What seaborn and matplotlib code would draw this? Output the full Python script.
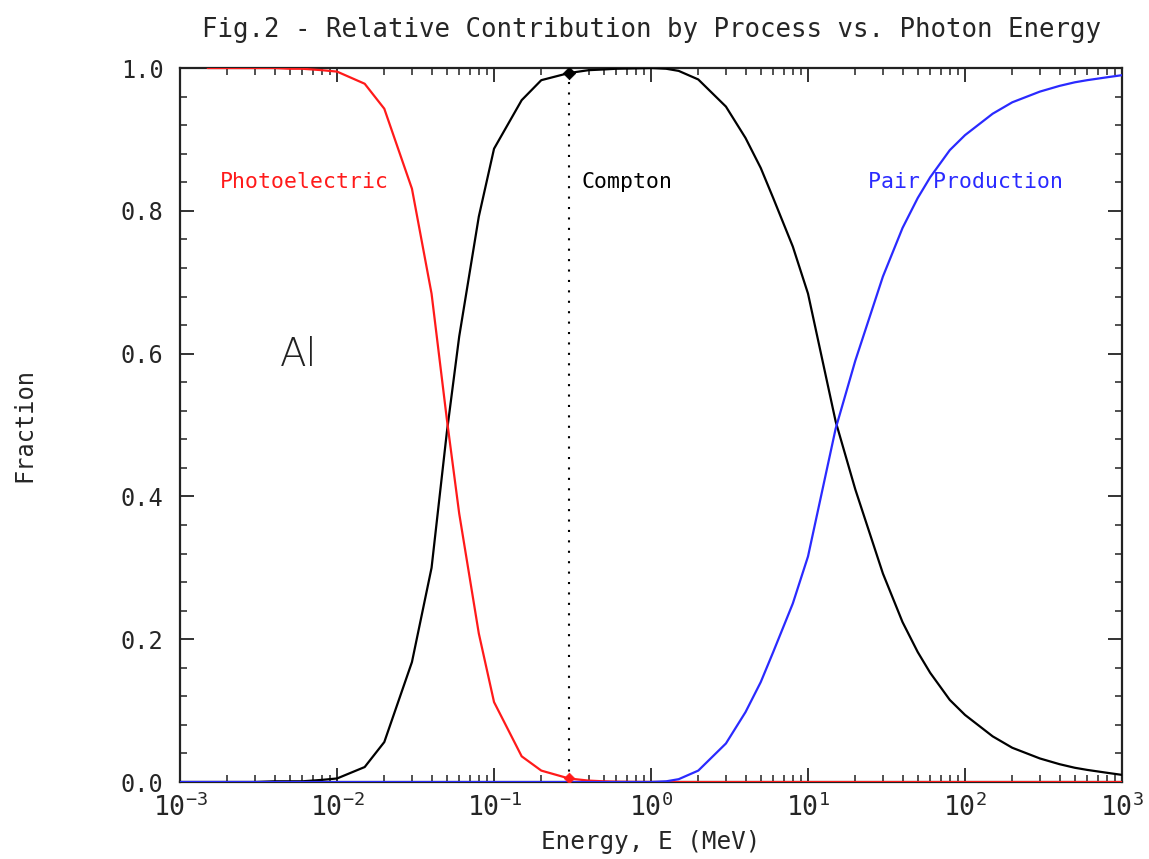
import numpy as np
import pandas as pd
import matplotlib
matplotlib.use("Agg")
import matplotlib.pyplot as plt
import matplotlib.ticker as mticker
import seaborn as sns

# Photon energy grid (MeV) and fractional contribution of each process in aluminium
energy = [0.001, 0.0015, 0.002, 0.003, 0.004, 0.005, 0.006, 0.008, 0.01, 0.015,
          0.02, 0.03, 0.04, 0.05, 0.06, 0.08, 0.1, 0.15, 0.2, 0.3,
          0.4, 0.5, 0.6, 0.8, 1.0, 1.25, 1.5, 2.0, 3.0, 4.0,
          5.0, 6.0, 8.0, 10.0, 15.0, 20.0, 30.0, 40.0, 50.0, 60.0,
          80.0, 100.0, 150.0, 200.0, 300.0, 400.0, 500.0, 600.0, 800.0, 1000.0]

photoelectric = [np.nan, 1.0, 1.0, 1.0, 1.0, 0.999, 0.999, 0.997, 0.995, 0.978,
                 0.943, 0.831, 0.684, 0.509, 0.376, 0.208, 0.112, 0.036, 0.016, 0.005,
                 0.002, 0.001, 0.0005, 0.0002, 0.0001, 0.0, 0.0, 0.0, 0.0, 0.0,
                 0.0, 0.0, 0.0, 0.0, 0.0, 0.0, 0.0, 0.0, 0.0, 0.0,
                 0.0, 0.0, 0.0, 0.0, 0.0, 0.0, 0.0, 0.0, 0.0, 0.0]

compton = [0.0, 0.0, 0.0, 0.0, 0.001, 0.001, 0.001, 0.003, 0.005, 0.021,
           0.056, 0.168, 0.300, 0.489, 0.624, 0.792, 0.887, 0.955, 0.983, 0.993,
           0.997, 0.998, 0.999, 0.9995, 1.0, 0.999, 0.996, 0.984, 0.946, 0.902,
           0.860, 0.818, 0.750, 0.684, 0.505, 0.410, 0.292, 0.224, 0.182, 0.153,
           0.115, 0.094, 0.064, 0.048, 0.033, 0.025, 0.020, 0.017, 0.013, 0.010]

pair_production = [0.0, 0.0, 0.0, 0.0, 0.0, 0.0, 0.0, 0.0, 0.0, 0.0,
                   0.0, 0.0, 0.0, 0.0, 0.0, 0.0, 0.0, 0.0, 0.0, 0.0,
                   0.0, 0.0, 0.0, 0.0, 0.0, 0.001, 0.004, 0.016, 0.054, 0.098,
                   0.140, 0.182, 0.250, 0.316, 0.495, 0.590, 0.708, 0.776, 0.818, 0.847,
                   0.885, 0.906, 0.936, 0.952, 0.967, 0.975, 0.980, 0.983, 0.987, 0.990]

# Axis tick values
x_major_ticks = [1e-3, 1e-2, 1e-1, 1e0, 1e1, 1e2, 1e3]
y_major_ticks = [0.0, 0.2, 0.4, 0.6, 0.8, 1.0]

# Marked energy on the Compton plateau
marker_energy = 0.3
marker_compton = 0.993
marker_photo = 0.005

sns.set_theme(style="white")
plt.rcParams["font.family"] = ["DejaVu Sans Mono"]
plt.rcParams["mathtext.default"] = "regular"

df = pd.DataFrame({"energy": energy, "Photoelectric": photoelectric,
                   "Compton": compton, "Pair Production": pair_production})

fig = plt.figure(figsize=(11.49, 8.59), dpi=100)
ax = fig.add_axes([0.1567, 0.0896, 0.8198, 0.8312])

ax.axvline(marker_energy, color="black", linestyle=(0, (1, 4)), linewidth=1.5, zorder=1)

sns.lineplot(data=df, x="energy", y="Compton", color="black", linewidth=1.6, ax=ax, zorder=3)
sns.lineplot(data=df, x="energy", y="Photoelectric", color="#ff1a1a", linewidth=1.6, ax=ax, zorder=3)
sns.lineplot(data=df, x="energy", y="Pair Production", color="#2a2aff", linewidth=1.6, ax=ax, zorder=3)

sns.scatterplot(x=[marker_energy], y=[marker_compton], marker="D", color="black",
                s=40, edgecolor="black", ax=ax, zorder=4)
sns.scatterplot(x=[marker_energy], y=[marker_photo], marker="D", color="#ff1a1a",
                s=30, edgecolor="#ff1a1a", ax=ax, zorder=4)

ax.set_xscale("log")
ax.set_xlim(x_major_ticks[0], x_major_ticks[-1])
ax.set_ylim(y_major_ticks[0], y_major_ticks[-1])

x_minor = [m * d for d in x_major_ticks[:-1] for m in range(2, 10)]
ax.xaxis.set_major_locator(mticker.FixedLocator(x_major_ticks))
ax.xaxis.set_major_formatter(mticker.LogFormatterSciNotation())
ax.xaxis.set_minor_locator(mticker.FixedLocator(x_minor))
ax.xaxis.set_minor_formatter(mticker.NullFormatter())
ax.yaxis.set_major_locator(mticker.FixedLocator(y_major_ticks))
ax.yaxis.set_minor_locator(mticker.MultipleLocator(0.04))
ax.yaxis.set_major_formatter(mticker.FormatStrFormatter("%.1f"))

ax.tick_params(which="both", direction="in", top=True, right=True,
               bottom=True, left=True, color="#333333")
ax.tick_params(which="major", length=10, width=1.4)
ax.tick_params(which="minor", length=5, width=1.2)
ax.tick_params(axis="y", which="major", labelsize=17, pad=12)
ax.tick_params(axis="x", which="major", labelsize=19, pad=8)
for side in ax.spines.values():
    side.set_color("#222222")
    side.set_linewidth(1.6)

ax.set_xlabel("Energy, E (MeV)", fontsize=17.5, labelpad=6)
ax.set_ylabel("Fraction", fontsize=17)
ax.yaxis.set_label_coords(-0.152, 0.5)
ax.set_title("Fig.2 - Relative Contribution by Process vs. Photon Energy",
             fontsize=18.5, pad=22)

ax.text(0.0018, 0.84, "Photoelectric", color="#ff1a1a", fontsize=15.5, va="center")
ax.text(0.36, 0.84, "Compton", color="black", fontsize=15.5, va="center")
ax.text(24, 0.84, "Pair Production", color="#2a2aff", fontsize=15.5, va="center")
ax.text(0.0043, 0.598, "Al", color="#222222", fontsize=28, va="center",
        family="DejaVu Sans", fontweight="light")

fig.savefig("out.png", dpi=100)
